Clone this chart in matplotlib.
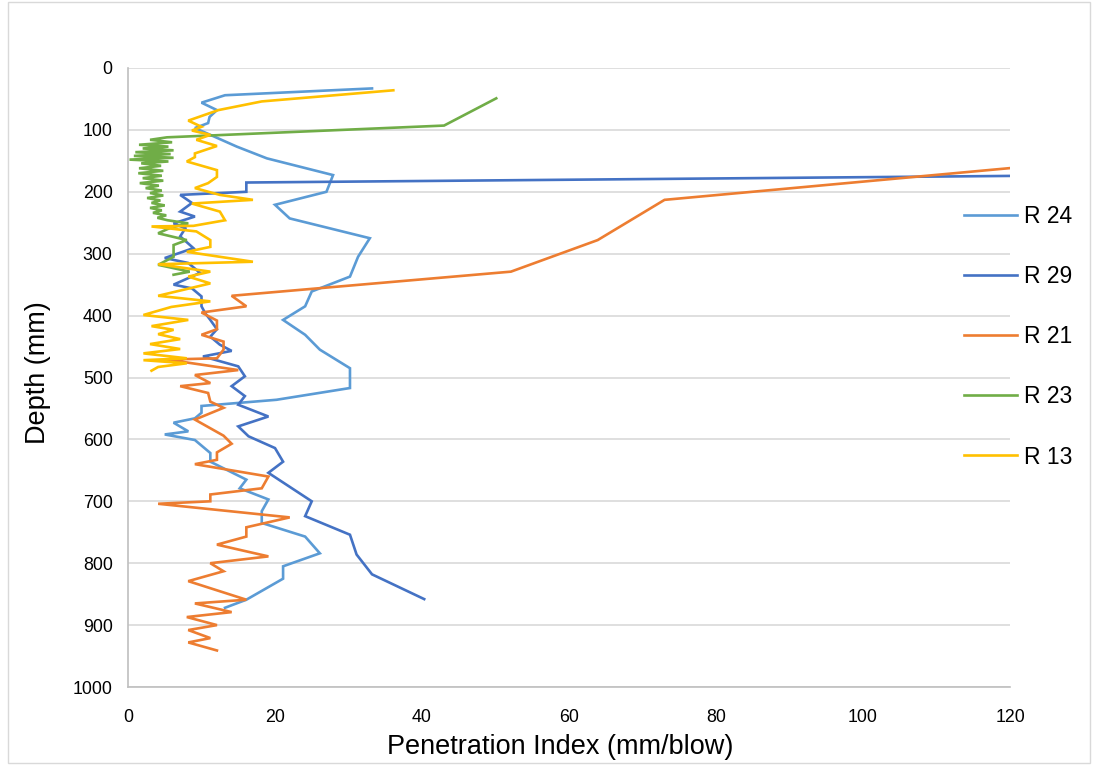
import matplotlib
matplotlib.use("Agg")
import matplotlib.pyplot as plt
from matplotlib.patches import Rectangle

plt.rcParams['font.family'] = ['Liberation Sans', 'DejaVu Sans']

series_names = ["R 24", "R 29", "R 21", "R 23", "R 13"]
series_colors = ["#5B9BD5", "#4472C4", "#ED7D31", "#70AD47", "#FFC000"]

r24_pi = [33.2, 13.2, 10.0, 12.1, 11.1, 10.9, 9.1, 11.2, 14.8, 18.9,
          27.9, 27.0, 20.0, 22.0, 32.9, 31.3, 30.2, 25.0, 24.1, 21.1,
          24.1, 26.1, 30.2, 30.2, 20.2, 10.0, 10.0, 9.1, 6.2, 8.2,
          5.0, 9.1, 11.2, 11.2, 16.1, 15.2, 19.1, 18.2, 18.2, 24.1,
          26.1, 21.1, 21.1, 16.1, 13.2]
r24_depth = [33, 44, 56, 68, 79, 89, 97, 108, 127, 146,
             173, 200, 221, 243, 275, 305, 337, 361, 385, 407,
             431, 455, 485, 517, 536, 546, 557, 566, 573, 587,
             592, 601, 622, 636, 665, 679, 697, 716, 735, 757,
             784, 805, 825, 859, 872]

r29_pi = [250, 16.1, 16.1, 7.1, 8.7, 7.1, 9.1, 6.2, 7.8, 7.1, 8.9, 5.0, 8.2,
          9.8, 6.2, 8.7, 10.0, 10.0, 10.5, 11.2, 12.1, 11.2, 12.5, 14.1, 10.2,
          15.0, 15.9, 14.1, 15.9, 15.0, 19.1, 15.0, 16.4, 20.0, 21.1, 19.1,
          25.0, 24.1, 30.2, 31.1, 33.2, 40.3]
r29_depth = [161, 185, 200, 205, 218, 232, 240, 251, 259, 272, 291, 307, 315,
             331, 350, 356, 369, 385, 396, 407, 422, 434, 447, 457, 466,
             482, 498, 514, 530, 544, 563, 579, 595, 614, 636, 654,
             700, 724, 754, 786, 818, 858]

r21_pi = [128, 73.0, 63.9, 52.1, 14.1, 16.1, 10.0, 12.1, 12.1, 10.0, 13.0, 13.0,
          12.1, 5.3, 15.0, 9.1, 11.2, 7.1, 10.9, 11.2, 13.0, 9.1, 13.0, 14.1,
          12.1, 12.1, 9.1, 19.1, 18.2, 11.2, 11.2, 4.1, 22.0, 16.1, 16.1, 12.1,
          19.1, 11.2, 13.0, 8.2, 16.1, 9.1, 14.1, 8.0, 12.1, 8.2, 11.2, 8.2, 12.1]
r21_depth = [153, 213, 278, 329, 368, 385, 395, 408, 422, 431, 442, 455,
             469, 471, 488, 496, 509, 514, 525, 539, 549, 568, 594, 607,
             621, 633, 640, 660, 679, 689, 700, 704, 726, 742, 757, 770,
             789, 800, 813, 829, 859, 865, 879, 887, 900, 908, 921, 928, 941]

r23_pi = [50.1, 43.0, 5.3, 3.0, 6.0, 1.5, 5.5, 2.0, 6.2, 1.0,
          5.8, 0.8, 6.2, 0.2, 5.5, 1.8, 4.5, 1.5, 4.8, 1.4,
          4.6, 2.0, 4.8, 1.6, 4.2, 2.4, 4.6, 3.0, 4.8, 2.6,
          4.4, 3.2, 5.0, 3.0, 4.6, 3.4, 5.2, 4.0, 5.4, 8.2,
          5.8, 4.1, 8.0, 6.2, 6.2, 6.2, 4.1, 8.4, 6.2]
r23_depth = [49, 93, 112, 116, 120, 124, 127, 130, 133, 136,
             139, 142, 145, 148, 151, 154, 158, 162, 166, 170,
             174, 178, 182, 186, 190, 194, 198, 202, 206, 210,
             214, 218, 222, 226, 230, 234, 238, 242, 246, 251,
             258, 267, 278, 286, 296, 305, 318, 329, 334]

r13_pi = [36.1, 18.2, 12.3, 8.2, 10.0, 8.7, 11.2, 9.3, 12.1, 9.1,
          9.1, 8.0, 12.1, 12.1, 10.9, 9.1, 12.5, 17.0, 8.7, 12.5,
          13.2, 8.9, 3.2, 9.3, 11.2, 11.2, 8.0, 17.0, 4.1, 11.2,
          8.2, 11.2, 4.1, 11.2, 5.9, 2.1, 8.2, 3.2, 6.2, 4.1,
          7.1, 3.0, 7.1, 2.1, 8.0, 2.1, 8.0, 4.1, 3.2]
r13_depth = [36, 54, 68, 85, 95, 101, 108, 116, 126, 138,
             144, 151, 165, 176, 186, 194, 205, 213, 219, 232,
             246, 255, 256, 264, 278, 289, 297, 313, 317, 329,
             337, 348, 368, 377, 386, 399, 407, 417, 423, 430,
             438, 446, 454, 461, 469, 472, 477, 483, 489]

x_ticks = [0, 20, 40, 60, 80, 100, 120]
y_ticks = [0, 100, 200, 300, 400, 500, 600, 700, 800, 900, 1000]
x_label = "Penetration Index (mm/blow)"
y_label = "Depth (mm)"

W, H = 1095, 765
fig = plt.figure(figsize=(W / 100, H / 100), dpi=100)
ax = fig.add_axes([128 / W, 1 - 687 / H, (1010 - 128) / W, (687 - 68) / H])

data = [(r24_pi, r24_depth), (r29_pi, r29_depth), (r21_pi, r21_depth),
        (r23_pi, r23_depth), (r13_pi, r13_depth)]
for (xs, ys), name, col in zip(data, series_names, series_colors):
    ax.plot(xs, ys, color=col, lw=1.9, label=name, solid_joinstyle='miter')

ax.set_xlim(0, 120)
ax.set_ylim(1000, 0)
ax.set_xticks(x_ticks)
ax.set_yticks(y_ticks)
ax.yaxis.grid(True, color="#D9D9D9", lw=1.2)
ax.xaxis.grid(False)
ax.set_axisbelow(True)
for s in ["top", "right"]:
    ax.spines[s].set_visible(False)
for s in ["left", "bottom"]:
    ax.spines[s].set_color("#BFBFBF")
    ax.spines[s].set_linewidth(1.2)
ax.tick_params(axis="both", length=0, labelsize=12.8, colors="#000000")
ax.tick_params(axis="y", pad=11)
ax.tick_params(axis="x", pad=16)
ax.set_xlabel(x_label, fontsize=19.5)
ax.set_ylabel(y_label, fontsize=19.5)
ax.xaxis.set_label_coords((560 - 128) / (1010 - 128), -(745 - 687 + 2) / (687 - 68))
ax.yaxis.set_label_coords(-(128 - 35 - 3) / (1010 - 128), (687 - 373) / (687 - 68))
ax.xaxis.label.set_va("center")
ax.yaxis.label.set_va("center")

leg = fig.legend(loc="upper left", bbox_to_anchor=(964 / W, 1 - 205 / H),
                 frameon=False, fontsize=16.5, handlelength=2.3,
                 handletextpad=0.3, labelspacing=1.62, borderpad=0,
                 borderaxespad=0)

fig.patches.append(Rectangle((8 / W, 2 / H), (1090 - 8) / W, (763 - 2) / H,
                             transform=fig.transFigure, fill=False,
                             edgecolor="#D9D9D9", lw=1))

fig.savefig("out.png", dpi=100)
